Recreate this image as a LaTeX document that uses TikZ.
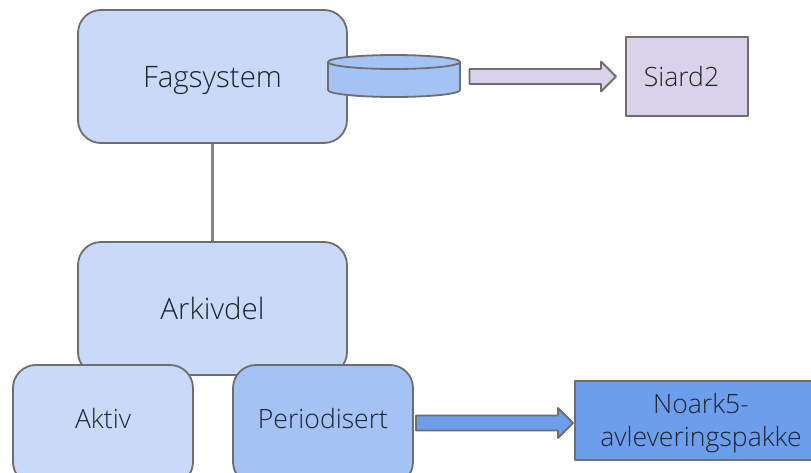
\documentclass[tikz,border=0pt]{standalone}
\usepackage{fontspec}
\setmainfont{Open Sans Light}
\usetikzlibrary{shapes.geometric,calc}
\definecolor{lineg}{HTML}{6E6E6E}
\definecolor{pale}{HTML}{C9DAF8}
\definecolor{mid}{HTML}{A4C2F4}
\definecolor{deep}{HTML}{6D9EEB}
\definecolor{lilac}{HTML}{D9D2E9}
\definecolor{inkc}{HTML}{1C2430}
\tikzset{
  every node/.style={text=inkc,font=\fontsize{26.6}{32}\selectfont},
  bigtext/.style={font=\fontsize{29.5}{35}\selectfont},
  outl/.style={draw=lineg,line width=1.8pt,line join=round},
  bigbox/.style={outl,rounded corners=23pt,minimum width=269pt,minimum height=133pt,inner sep=0pt},
  smallbox/.style={outl,rounded corners=23pt,minimum width=180pt,minimum height=120pt,inner sep=0pt},
  flat/.style={outl,inner sep=0pt},
}
\newcommand{\blockarrow}[3]{% from, to, fill
  \draw[outl,fill=#3] ($(#1)+(0,-7.5)$) -- ($(#2)+(-15,-7.5)$) -- ($(#2)+(-15,-15)$) -- (#2) -- ($(#2)+(-15,15)$) -- ($(#2)+(-15,7.5)$) -- ($(#1)+(0,7.5)$) -- cycle;}
\begin{document}
\begin{tikzpicture}[x=1pt,y=-1pt]
\useasboundingbox (0,0) rectangle (811,472);
\clip (0,0) rectangle (811,472);
\node[bigbox,fill=pale] (fag) at (212.5,76.5) {};
\node[bigbox,fill=pale] (ark) at (212.5,308.5) {};
\node[bigtext] (fagt) at (212.5,81) {Fagsystem};
\node[bigtext] (arkt) at (212.5,308.5) {Arkivdel};
\draw[draw=lineg!85,line width=2.2pt] (fag.south) -- (ark.north);
\node[smallbox,fill=pale] (akt) at (103,425) {};
\node (aktt) at (103,419) {Aktiv};
\node[smallbox,fill=mid] (per) at (323,425) {};
\node (pert) at (323,419) {Periodisert};
% cylinder
\coordinate (cyl) at (394,76);
\draw[outl,fill=mid] (328,62) -- (328,90) arc[start angle=180,end angle=0,x radius=66,y radius=7] -- (460,62) arc[start angle=0,end angle=-180,x radius=66,y radius=7] -- cycle;
\draw[outl] (328,62) arc[start angle=180,end angle=0,x radius=66,y radius=7];
\node[flat,fill=lilac,minimum width=122pt,minimum height=79pt] (sia) at (687,76.5) {};
\node (siat) at (681.5,76.5) {Siard2};
\node[flat,fill=deep,minimum width=250pt,minimum height=79pt] (noa) at (700,420.5) {};
\node[align=center] (noat) at (701,423) {Noark5-\\[1pt]avleveringspakke};
\coordinate (a1) at (469.5,76.5);
\coordinate (a2) at (616,76.5);
\coordinate (b1) at (416,423);
\coordinate (b2) at (573,423);
\blockarrow{a1}{a2}{lilac}
\blockarrow{b1}{b2}{deep}
\end{tikzpicture}
\end{document}
